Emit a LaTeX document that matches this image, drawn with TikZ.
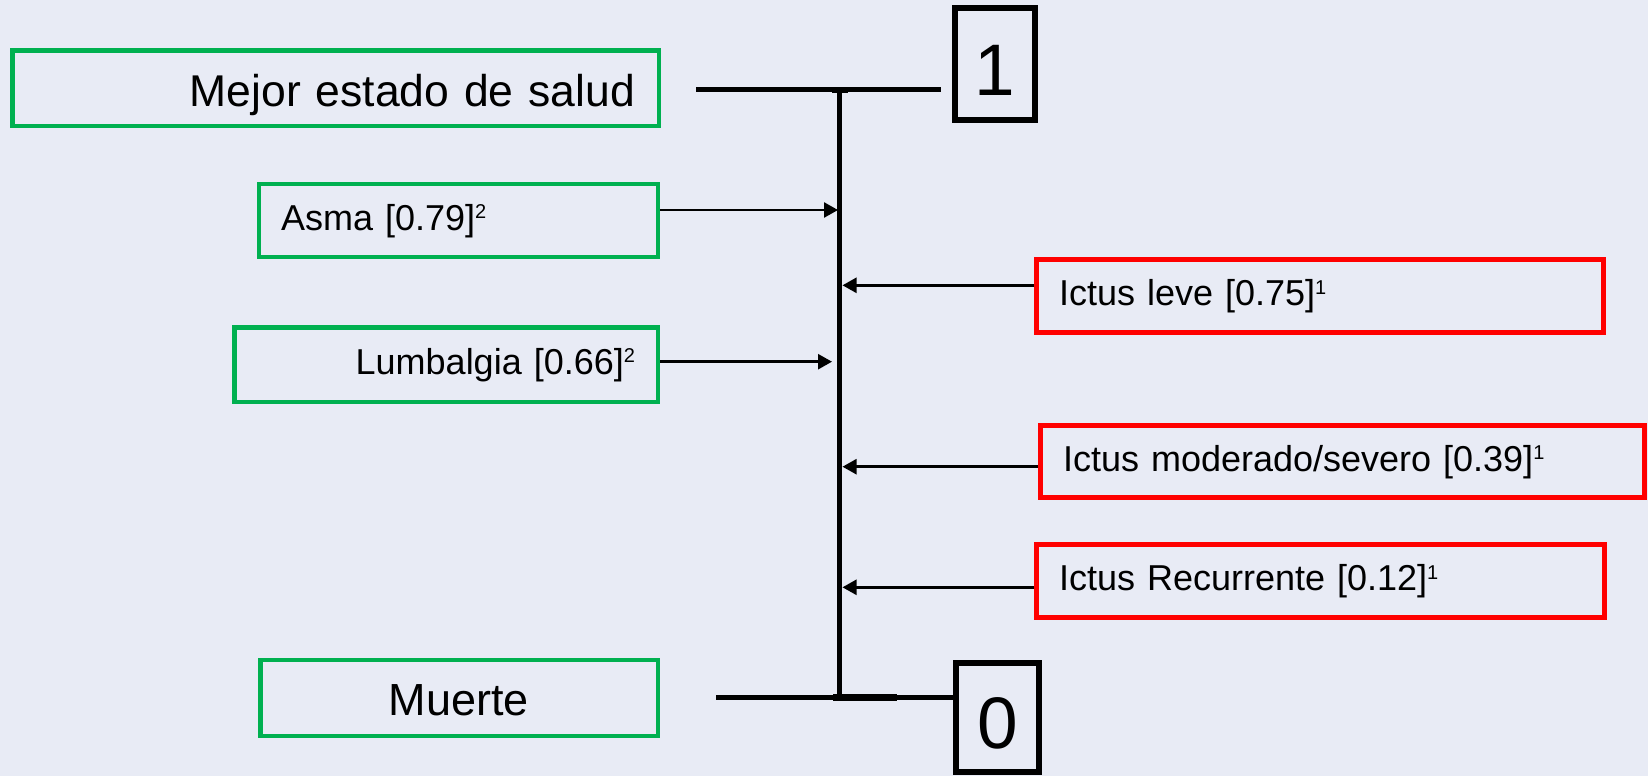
\documentclass[tikz,border=0pt]{standalone}
\usepackage{fontspec}
\setmainfont{Liberation Sans}
\usetikzlibrary{arrows.meta}
\definecolor{bgcol}{RGB}{232,235,245}
\definecolor{gcol}{RGB}{0,176,80}
\definecolor{rcol}{RGB}{255,0,0}
\newcommand\mysup[1]{\raisebox{11.5pt}{\fontsize{20}{20}\selectfont #1}}
\tikzset{
  gbox/.style={draw=gcol, line width=4.5pt, inner sep=0pt},
  rbox/.style={draw=rcol, line width=5pt, inner sep=0pt},
  dbox/.style={draw=black, line width=6pt, inner sep=0pt, font=\fontsize{73}{73}\selectfont, text height=62pt, text depth=0pt},
  txtL/.style={font=\fontsize{45}{54}\selectfont, text height=40pt, text depth=3.8pt},
  txtS/.style={font=\fontsize{36}{43}\selectfont, text height=34pt, text depth=14.8pt},
  axisline/.style={line width=5pt},
  arr/.style={line width=2.5pt, -{Triangle[length=14pt,width=15pt]}},
}
\begin{document}
\begin{tikzpicture}[x=1pt,y=-1pt]
\fill[bgcol] (0,0) rectangle (1648,776);
\useasboundingbox (0,0) rectangle (1648,776);

% boxes
\node[gbox, txtL, font=\fontsize{44.5}{54}\selectfont, text depth=4.5pt, minimum width=646.5pt, minimum height=75.5pt, text width=599pt, align=right] (mejor) at (335.5,88.25) {Mejor estado de salud};
\node[gbox, txtS, minimum width=399pt, minimum height=72.75pt, text width=354.5pt, align=left] (asma) at (458.25,220.6) {Asma [0.79]\mysup{2}};
\node[gbox, txtS, minimum width=423.5pt, minimum height=74.5pt, text width=378pt, align=right] (lumb) at (446,364.5) {Lumbalgia [0.66]\mysup{2}};
\node[gbox, txtL, minimum width=397.5pt, minimum height=76pt, align=center] (muerte) at (459,697.8) {Muerte};

\node[rbox, txtS, minimum width=567pt, minimum height=73pt, text width=522pt, align=left] (leve) at (1320,296) {Ictus leve [0.75]\mysup{1}};
\node[rbox, txtS, minimum width=604pt, minimum height=72pt, text width=559pt, align=left] (mod) at (1342.5,461.5) {Ictus moderado/severo [0.39]\mysup{1}};
\node[rbox, txtS, minimum width=568pt, minimum height=73pt, text width=523pt, align=left] (rec) at (1320.5,581) {Ictus Recurrente [0.12]\mysup{1}};

\node[dbox, minimum width=80pt, minimum height=112pt] (one) at (995,64) {1};
\node[dbox, minimum width=83pt, minimum height=109pt] (zero) at (997.5,717.5) {0};

% scale lines
\coordinate (tl) at (696,89.8);
\coordinate (tr) at (940.7,89.8);
\coordinate (vt) at (839.7,89.8);
\coordinate (vb) at (839.7,697.7);
\coordinate (bl) at (716,697.7);
\coordinate (vl) at (838,0);
\coordinate (vr) at (842.5,0);

\draw[axisline] (tl) -- (tr);
\draw[line width=6pt] (832,89.8) -- (848,89.8);
\draw[line width=5.5pt] (vt) -- (vb);
\draw[axisline] (bl) -- (bl -| zero.west);
\draw[line width=6.5pt] (833,697.7) -- (897,697.7);

% arrows
\coordinate (asmaOut) at ([yshift=10.6pt]asma.east);
\coordinate (lumbOut) at ([yshift=2.8pt]lumb.east);
\coordinate (leveOut) at ([yshift=10.7pt]leve.west);
\coordinate (modOut) at ([yshift=-5.2pt]mod.west);
\coordinate (recOut) at ([yshift=-6.3pt]rec.west);

\draw[arr] (asmaOut) -- (asmaOut -| vl);
\draw[arr, shorten >=6pt] (lumbOut) -- (lumbOut -| vl);
\draw[arr] (leveOut) -- (leveOut -| vr);
\draw[arr] (modOut) -- (modOut -| vr);
\draw[arr] (recOut) -- (recOut -| vr);
\end{tikzpicture}
\end{document}
